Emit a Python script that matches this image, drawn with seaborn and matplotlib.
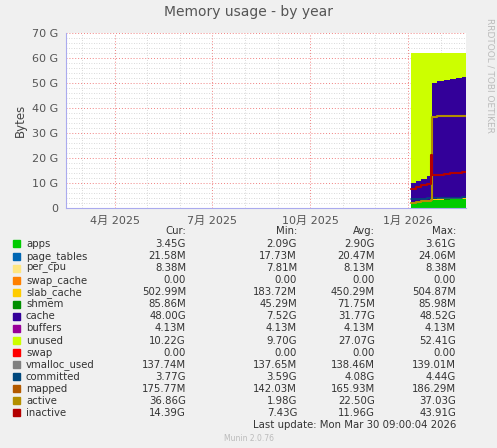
import pandas as pd
import numpy as np
import matplotlib
matplotlib.use("Agg")
import matplotlib.pyplot as plt
import matplotlib.dates as mdates
import seaborn as sns

sns.set_style("white")
plt.rcParams['font.family'] = ['DejaVu Sans', 'Noto Sans CJK SC']

# time points (data only covers the last weeks)
dates = pd.to_datetime(["2026-01-03", "2026-01-08", "2026-01-13", "2026-01-18", "2026-01-22",
                        "2026-01-23", "2026-01-28", "2026-02-03", "2026-02-09", "2026-02-15",
                        "2026-02-20", "2026-02-24"])
apps = [2.1, 2.2, 2.4, 2.6, 2.8, 3.0, 3.2, 3.3, 3.4, 3.5, 3.5, 3.45]
page_tables = [0.02] * 12
shmem = [0.05, 0.05, 0.05, 0.06, 0.06, 0.07, 0.08, 0.08, 0.09, 0.09, 0.09, 0.09]
slab = [0.2, 0.25, 0.3, 0.35, 0.4, 0.45, 0.5, 0.5, 0.5, 0.5, 0.5, 0.5]
cache = [7.5, 8.3, 9.0, 9.7, 10.4, 46.5, 47.0, 47.3, 47.6, 47.9, 48.2, 48.0]
unused = [52.1, 51.2, 50.2, 49.3, 48.3, 12.0, 11.2, 10.8, 10.4, 10.0, 9.7, 9.9]
committed = [3.6, 3.7, 3.7, 3.8, 3.8, 3.9, 4.0, 4.0, 4.1, 4.1, 4.2, 4.2]
active = [2.0, 2.3, 2.6, 2.8, 3.0, 36.5, 36.6, 36.6, 36.7, 36.8, 36.9, 36.9]
inactive = [7.4, 8.3, 9.0, 9.6, 21.0, 13.0, 13.2, 13.5, 13.8, 14.0, 14.2, 14.4]

names = ["apps", "page_tables", "per_cpu", "swap_cache", "slab_cache", "shmem", "cache",
         "buffers", "unused", "swap", "vmalloc_used", "committed", "mapped", "active", "inactive"]
colors = ["#00cc00", "#0066b3", "#ffe680", "#ff8000", "#ffcc00", "#008f00", "#330099",
          "#990099", "#ccff00", "#ff0000", "#808080", "#00487d", "#b35a00", "#b38f00", "#b30000"]
cur = ["3.45G", "21.58M", "8.38M", "0.00", "502.99M", "85.86M", "48.00G", "4.13M", "10.22G",
       "0.00", "137.74M", "3.77G", "175.77M", "36.86G", "14.39G"]
mins = ["2.09G", "17.73M", "7.81M", "0.00", "183.72M", "45.29M", "7.52G", "4.13M", "9.70G",
        "0.00", "137.65M", "3.59G", "142.03M", "1.98G", "7.43G"]
avgs = ["2.90G", "20.47M", "8.13M", "0.00", "450.29M", "71.75M", "31.77G", "4.13M", "27.07G",
        "0.00", "138.46M", "4.08G", "165.93M", "22.50G", "11.96G"]
maxs = ["3.61G", "24.06M", "8.38M", "0.00", "504.87M", "85.98M", "48.52G", "4.13M", "52.41G",
        "0.00", "139.01M", "4.44G", "186.29M", "37.03G", "43.91G"]

W, H = 497, 448
fig = plt.figure(figsize=(W / 100, H / 100), dpi=100, facecolor="#f0f0f0")
ax = fig.add_axes([66 / W, (H - 208) / H, 400 / W, 175 / H])
ax.set_facecolor("white")

x = mdates.date2num(dates)
stack = [apps, page_tables, shmem, slab, cache, unused]
scol = [colors[0], colors[1], colors[5], colors[4], colors[6], colors[8]]
ax.stackplot(x, *stack, colors=scol, step="post", linewidth=0)
sns.lineplot(x=x, y=committed, ax=ax, color=colors[11], drawstyle="steps-post", lw=1.2)
sns.lineplot(x=x, y=active, ax=ax, color=colors[13], drawstyle="steps-post", lw=1.5)
sns.lineplot(x=x, y=inactive, ax=ax, color=colors[14], drawstyle="steps-post", lw=1.5)

ax.set_xlim(mdates.date2num(pd.Timestamp("2025-02-14")), mdates.date2num(pd.Timestamp("2026-02-24")))
ax.set_ylim(0, 70)
ax.set_yticks(range(0, 71, 10))
ax.set_yticklabels(["0"] + [f"{v} G" for v in range(10, 71, 10)])
ax.set_yticks(np.arange(0, 70, 2), minor=True)
months = pd.date_range("2025-03-01", "2026-02-01", freq="MS")
quarters = pd.to_datetime(["2025-04-01", "2025-07-01", "2025-10-01", "2026-01-01"])
ax.set_xticks(mdates.date2num(quarters))
ax.set_xticklabels(["4月 2025", "7月 2025", "10月 2025", "1月 2026"])
ax.set_xticks(mdates.date2num(months), minor=True)
ax.grid(which="minor", color="#cccccc", ls=(0, (1, 2)), lw=0.6)
ax.grid(which="major", color="#f08080", ls=(0, (1, 2)), lw=0.7)
ax.set_axisbelow(True)
ax.tick_params(labelsize=8, colors="#555555", length=2)
for s in ["top", "right"]:
    ax.spines[s].set_visible(False)
for s in ["left", "bottom"]:
    ax.spines[s].set_color("#aaaaee")
ax.set_ylabel("Bytes", fontsize=8.5, color="#444444")

fig.text(0.5, (H - 12) / H, "Memory usage - by year", ha="center", va="center", fontsize=10, color="#555555")
fig.text(490 / W, (H - 75) / H, "RRDTOOL / TOBI OETIKER", rotation=270, ha="center", va="center",
         fontsize=6.5, color="#bbbbbb")

def fy(y):
    return (H - y) / H

fs = 7.3
for label, xx in [("Cur:", 186), ("Min:", 297), ("Avg:", 375), ("Max:", 456)]:
    fig.text(xx / W, fy(231), label, ha="right", va="center", fontsize=fs, color="#333333")
for i, n in enumerate(names):
    y = 244 + i * 12.07
    fig.patches.append(plt.Rectangle((13 / W, fy(y + 3.5)), 7 / W, 7 / H, transform=fig.transFigure,
                                     color=colors[i]))
    fig.text(26 / W, fy(y), n, ha="left", va="center", fontsize=fs, color="#333333")
    for v, xx in [(cur[i], 186), (mins[i], 297), (avgs[i], 375), (maxs[i], 456)]:
        fig.text(xx / W, fy(y), v, ha="right", va="center", fontsize=fs, color="#333333")
fig.text(456 / W, fy(425), "Last update: Mon Mar 30 09:00:04 2026", ha="right", va="center",
         fontsize=fs, color="#333333")
fig.text(0.5, fy(438), "Munin 2.0.76", ha="center", va="center", fontsize=5.5, color="#bbbbbb")

fig.savefig("out.png", dpi=100, facecolor=fig.get_facecolor())
